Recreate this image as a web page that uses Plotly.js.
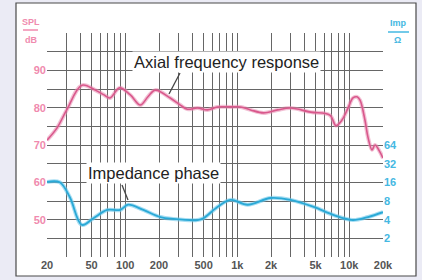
<!DOCTYPE html>
<html>
<head>
<meta charset="utf-8">
<script src="https://cdn.plot.ly/plotly-3.0.1.min.js"></script>
<style>html,body{margin:0;padding:0;background:#ebebf5;}#chart{width:422px;height:280px;}</style>
</head>
<body>
<div id="chart"></div>
<script>
// SPL (axial frequency response), dB
const splFreq = [20, 24.6, 30, 41, 54, 64, 73, 89, 111, 136, 160, 185, 252, 310, 358, 441, 541, 665, 869, 1069, 1313, 1717, 2292, 2995, 4526, 6700, 7600, 8610, 9740, 10790, 11720, 12470, 13800, 14680, 15960, 16980, 18800, 20000];
const splDb   = [71.3, 74.6, 79.4, 86, 84.7, 83.5, 82.6, 85.3, 83.4, 80.7, 83, 84.7, 82.6, 80.7, 79.6, 79.9, 79.4, 80.2, 80.2, 80.2, 79.4, 78.6, 79.4, 79.9, 78.8, 78, 75.2, 76.7, 79.9, 82.6, 82.9, 82, 76.7, 72.1, 68.7, 70, 68.1, 66.5];
// Impedance phase (drawn on the dB grid)
const phaseFreq = [20, 26, 32, 41, 52, 69, 90, 106, 145, 206, 268, 441, 500, 665, 869, 1237, 1985, 2995, 4820, 7290, 10780, 14700, 20000];
const phaseVal  = [60.1, 60, 56, 48.6, 50.4, 52.6, 52.6, 54, 52.6, 50.7, 50.2, 49.9, 50.4, 53.4, 55.3, 54, 55.8, 55.3, 53.4, 51.2, 49.9, 50.7, 52];
// Axis ticks
const xGridVals = [20,30,40,50,60,70,80,90,100,200,300,400,500,600,700,800,900,1000,2000,3000,4000,5000,6000,7000,8000,9000,10000,20000];
const xLabeled = {20:'20',50:'50',100:'100',200:'200',500:'500',1000:'1k',2000:'2k',5000:'5k',10000:'10k',20000:'20k'};
const yGridVals = [40,45,50,55,60,65,70,75,80,85,90,95,100];
const yLabeled = {50:'50',60:'60',70:'70',80:'80',90:'90'};
const impTickPos = [45,50,55,60,65,70];
const impTickText = ['2','4','8','16','32','64'];

const pink = '#d9588c', cyan = '#2aa9d6';
const tickFontFamily = 'Liberation Sans Narrow, Arial Narrow, Liberation Sans, Arial, sans-serif';

const traces = [
  {x: splFreq, y: splDb, type:'scatter', mode:'lines', line:{color:'rgba(232,140,176,0.55)', width:4, shape:'spline'}, hoverinfo:'skip'},
  {x: splFreq, y: splDb, type:'scatter', mode:'lines', line:{color:pink, width:1.6, shape:'spline'}},
  {x: phaseFreq, y: phaseVal, type:'scatter', mode:'lines', line:{color:'rgba(110,200,235,0.6)', width:4, shape:'spline'}, hoverinfo:'skip'},
  {x: phaseFreq, y: phaseVal, type:'scatter', mode:'lines', line:{color:cyan, width:1.8, shape:'spline'}},
  {x: [20, 20000], y: [null, null], yaxis:'y2', type:'scatter', mode:'lines', hoverinfo:'skip'}
];

const px = v => (v - 47) / 336;
const py = v => (257 - v) / 224;

const layout = {
  width: 422, height: 280,
  margin: {l:47, r:39, t:33, b:23},
  paper_bgcolor: '#ebebf5',
  plot_bgcolor: 'rgba(0,0,0,0)',
  showlegend: false,
  xaxis: {
    type:'log', range:[Math.log10(20), Math.log10(20000)],
    tickvals: xGridVals, ticktext: xGridVals.map(v => xLabeled[v] || ''),
    showgrid:true, gridcolor:'#666666', gridwidth:1, zeroline:false, showline:false, ticks:'',
    tickfont:{family:tickFontFamily, size:11, color:'#555', weight:'bold'}, ticklabelstandoff:0
  },
  yaxis: {
    range:[40,100], tickvals: yGridVals, ticktext: yGridVals.map(v => yLabeled[v] || ''),
    showgrid:true, gridcolor:'#666666', gridwidth:1, zeroline:false, showline:false, ticks:'',
    tickfont:{family:tickFontFamily, size:11, color:'#f08aae', weight:'bold'}
  },
  yaxis2: {
    overlaying:'y', side:'right', range:[40,100], tickvals: impTickPos, ticktext: impTickText,
    showgrid:false, zeroline:false, showline:false, ticks:'',
    tickfont:{family:tickFontFamily, size:11, color:'#45b8e2', weight:'bold'}
  },
  shapes: [
    {type:'rect', xref:'paper', yref:'paper', x0:px(16), x1:px(416), y0:py(276), y1:py(3), fillcolor:'#ffffff', line:{color:'#4a4a4a', width:1.2}, layer:'below'},
    {type:'line', xref:'paper', yref:'paper', x0:px(23), x1:px(38), y0:py(30), y1:py(30), line:{color:'#f08aae', width:1.5}},
    {type:'line', xref:'paper', yref:'paper', x0:px(388), x1:px(409), y0:py(32), y1:py(32), line:{color:'#45b8e2', width:1.5}},
    {type:'line', xref:'paper', yref:'paper', x0:px(180), x1:px(169), y0:py(73), y1:py(94), line:{color:'#444', width:1.3}},
    {type:'line', xref:'paper', yref:'paper', x0:px(122), x1:px(128), y0:py(185), y1:py(200), line:{color:'#444', width:1.3}}
  ],
  annotations: [
    {text:'Axial frequency response', xref:'paper', yref:'paper', x:px(226.5), y:py(62), showarrow:false, xanchor:'center', yanchor:'middle',
     font:{family:'Liberation Sans, Arial, sans-serif', size:16.5, color:'#222'}, bgcolor:'#ffffff', borderpad:1},
    {text:'Impedance phase', xref:'paper', yref:'paper', x:px(153), y:py(173), showarrow:false, xanchor:'center', yanchor:'middle',
     font:{family:'Liberation Sans, Arial, sans-serif', size:16.5, color:'#222'}, bgcolor:'#ffffff', borderpad:1},
    {text:'SPL', xref:'paper', yref:'paper', x:px(31), y:py(22), showarrow:false, xanchor:'center', yanchor:'middle',
     font:{family:tickFontFamily, size:9, color:'#f08aae', weight:'bold'}},
    {text:'dB', xref:'paper', yref:'paper', x:px(31), y:py(40), showarrow:false, xanchor:'center', yanchor:'middle',
     font:{family:tickFontFamily, size:9, color:'#f08aae', weight:'bold'}},
    {text:'Imp', xref:'paper', yref:'paper', x:px(398), y:py(23), showarrow:false, xanchor:'center', yanchor:'middle',
     font:{family:tickFontFamily, size:9, color:'#45b8e2', weight:'bold'}},
    {text:'Ω', xref:'paper', yref:'paper', x:px(397), y:py(40), showarrow:false, xanchor:'center', yanchor:'middle',
     font:{family:tickFontFamily, size:9, color:'#45b8e2', weight:'bold'}}
  ]
};

Plotly.newPlot('chart', traces, layout, {staticPlot:true, displayModeBar:false});
</script>
</body>
</html>
